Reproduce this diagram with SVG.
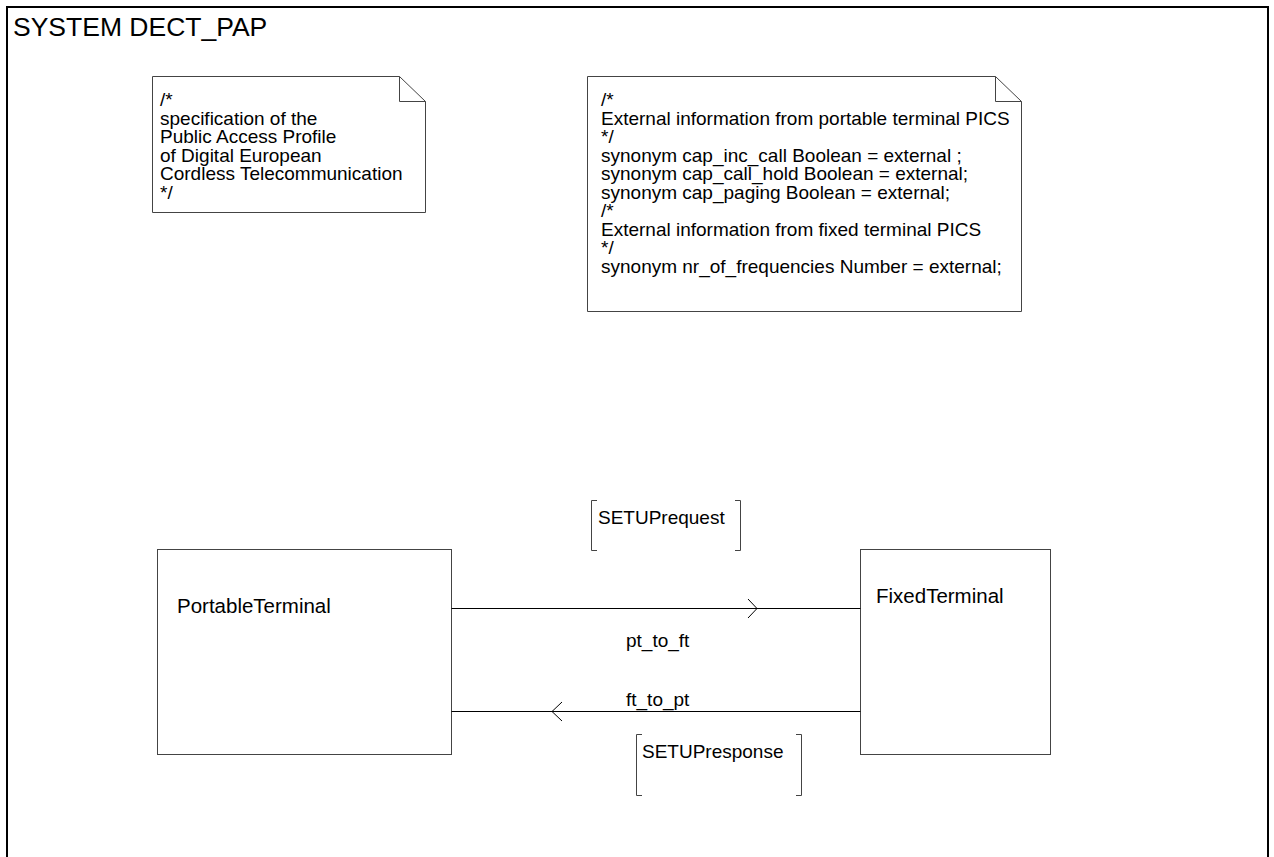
<svg xmlns="http://www.w3.org/2000/svg" width="1274" height="857" viewBox="0 0 1274 857">
  <style>
    text { font-family: "Liberation Sans", Arial, sans-serif; fill: #000; }
    .title { font-size: 26.5px; }
    .note-text { font-size: 19px; }
    .label { font-size: 19px; }
    .block-name { font-size: 20.5px; }
    .frame { fill: none; stroke: #000; stroke-width: 2; }
    .box { fill: #fff; stroke: #444; stroke-width: 1; }
    .fold { fill: none; stroke: #444; stroke-width: 1; }
    .channel { fill: none; stroke: #000; stroke-width: 1; }
    .bracket { fill: none; stroke: #444; stroke-width: 1; }
  </style>

  <rect width="1274" height="857" fill="#fff"/>

  <!-- system frame (open at the bottom edge of the page) -->
  <rect class="frame" x="7" y="7" width="1261" height="900"/>
  <text class="title" x="13" y="36">SYSTEM DECT_PAP</text>

  <!-- comment note -->
  <g id="note-spec">
    <path class="box" d="M152.5,76.5 H399.5 L425.5,101.5 V212.5 H152.5 Z"/>
    <path class="fold" d="M399.5,76.5 V101.5 H425.5"/>
    <text class="note-text">
      <tspan x="160" y="106">/*</tspan>
      <tspan x="160" y="124.5">specification of the</tspan>
      <tspan x="160" y="143">Public Access Profile</tspan>
      <tspan x="160" y="161.5">of Digital European</tspan>
      <tspan x="160" y="180">Cordless Telecommunication</tspan>
      <tspan x="160" y="198.5">*/</tspan>
    </text>
  </g>

  <!-- synonym declarations note -->
  <g id="note-synonyms">
    <path class="box" d="M587.5,76.5 H995.5 L1021.5,101.5 V311.5 H587.5 Z"/>
    <path class="fold" d="M995.5,76.5 V101.5 H1021.5"/>
    <text class="note-text">
      <tspan x="601" y="106">/*</tspan>
      <tspan x="601" y="124.5">External information from portable terminal PICS</tspan>
      <tspan x="601" y="143">*/</tspan>
      <tspan x="601" y="161.5">synonym cap_inc_call Boolean = external ;</tspan>
      <tspan x="601" y="180">synonym cap_call_hold Boolean = external;</tspan>
      <tspan x="601" y="198.5">synonym cap_paging Boolean = external;</tspan>
      <tspan x="601" y="217">/*</tspan>
      <tspan x="601" y="235.5">External information from fixed terminal PICS</tspan>
      <tspan x="601" y="254">*/</tspan>
      <tspan x="601" y="272.5">synonym nr_of_frequencies Number = external;</tspan>
    </text>
  </g>

  <!-- blocks -->
  <g id="block-portable">
    <rect class="box" x="157.5" y="549.5" width="294" height="205"/>
    <text class="block-name" x="177" y="613">PortableTerminal</text>
  </g>
  <g id="block-fixed">
    <rect class="box" x="860.5" y="549.5" width="190" height="205"/>
    <text class="block-name" x="876" y="603">FixedTerminal</text>
  </g>

  <!-- channels -->
  <g id="channels">
    <g id="ch-pt-to-ft">
      <line class="channel" x1="451.5" y1="608.5" x2="860.5" y2="608.5"/>
      <path class="channel" d="M748,599 L757,608.5 L748,618"/>
      <text class="label" x="626" y="647">pt_to_ft</text>
      <path class="bracket" d="M597,500.5 H591.5 V550.5 H597"/>
      <path class="bracket" d="M735,500.5 H740.5 V550.5 H735"/>
      <text class="label" x="598" y="524">SETUPrequest</text>
    </g>
    <g id="ch-ft-to-pt">
      <line class="channel" x1="860.5" y1="711.5" x2="451.5" y2="711.5"/>
      <path class="channel" d="M562,702 L552,711.5 L562,721"/>
      <text class="label" x="626" y="706">ft_to_pt</text>
      <path class="bracket" d="M642,734.5 H636.5 V795.5 H642"/>
      <path class="bracket" d="M796,734.5 H801.5 V795.5 H796"/>
      <text class="label" x="642" y="758">SETUPresponse</text>
    </g>
  </g>
</svg>
